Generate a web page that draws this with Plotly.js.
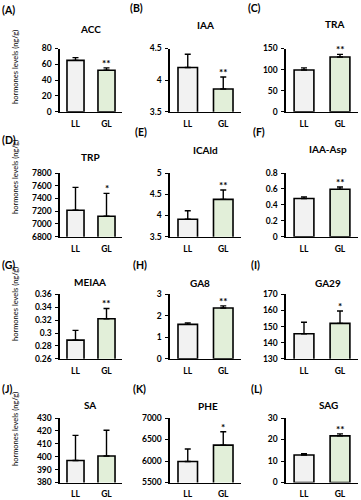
<!DOCTYPE html>
<html>
<head>
<meta charset="utf-8">
<script src="https://cdn.plot.ly/plotly-3.0.1.min.js"></script>
<style>html,body{margin:0;padding:0;background:#fff;}#chart{width:361px;height:500px;}</style>
</head>
<body>
<div id="chart"></div>
<script>
// ---- data ----
const categories = ['LL', 'GL'];
const panelNames = ['ACC', 'IAA', 'TRA', 'TRP', 'ICAld', 'IAA-Asp', 'MEIAA', 'GA8', 'GA29', 'SA', 'PHE', 'SAG'];
const panelLetters = ['(A)', '(B)', '(C)', '(D)', '(E)', '(F)', '(G)', '(H)', '(I)', '(J)', '(K)', '(L)'];
const llValues = [65, 4.2, 99, 7215, 3.91, 0.48, 0.289, 1.6, 145.5, 397, 5990, 12.8];
const llErrors = [3.5, 0.21, 5, 360, 0.2, 0.02, 0.015, 0.07, 7.2, 19.5, 290, 0.6];
const glValues = [52.5, 3.86, 130, 7120, 4.38, 0.595, 0.322, 2.36, 152, 400.5, 6370, 21.7];
const glErrors = [3, 0.19, 6, 360, 0.22, 0.03, 0.016, 0.1, 7.6, 20, 310, 0.9];
const significance = ['**', '**', '**', '*', '**', '**', '**', '**', '*', '', '*', '**'];
const axisMin = [0, 3.5, 0, 6800, 3.5, 0, 0.26, 0, 130, 380, 5500, 0];
const axisMax = [80, 4.5, 150, 7800, 5, 0.8, 0.36, 3, 170, 430, 7000, 30];
const tickValues = [
  [0, 20, 40, 60, 80],
  [3.5, 4, 4.5],
  [0, 50, 100, 150],
  [6800, 7000, 7200, 7400, 7600, 7800],
  [3.5, 4, 4.5, 5],
  [0, 0.2, 0.4, 0.6, 0.8],
  [0.26, 0.28, 0.3, 0.32, 0.34, 0.36],
  [0, 1, 2, 3],
  [130, 140, 150, 160, 170],
  [380, 390, 400, 410, 420, 430],
  [5500, 6000, 6500, 7000],
  [0, 10, 20, 30]
];
const tickLabels = [
  ['0', '20', '40', '60', '80'],
  ['3.5', '4', '4.5'],
  ['0', '50', '100', '150'],
  ['6800', '7000', '7200', '7400', '7600', '7800'],
  ['3.5', '4', '4.5', '5'],
  ['0', '0.2', '0.4', '0.6', '0.8'],
  ['0.26', '0.28', '0.3', '0.32', '0.34', '0.36'],
  ['0', '1', '2', '3'],
  ['130', '140', '150', '160', '170'],
  ['380', '390', '400', '410', '420', '430'],
  ['5500', '6000', '6500', '7000'],
  ['0', '10', '20', '30']
];
const yAxisTitle = 'hormones levels (ng/g)';

// ---- layout geometry (pixels) ----
const W = 361, H = 500;
const colPx = [[60, 122], [170, 241], [286, 358]];
const rowPx = [[48.5, 111.7], [173, 236.7], [294.3, 358.8], [418, 482.5]];
const titlePx = [[90, 29], [205, 25], [334, 24], [90, 157], [205, 150], [328, 149], [90, 282], [200, 283], [328, 283], [90, 405], [208, 406], [328, 405]];
const letterPx = [[0, 10], [128, 8], [246, 8], [0, 140], [133, 132], [251, 132], [0, 265], [131, 265], [249, 265], [0, 389], [131, 389], [249, 389]];
const yTitleRowPx = [67, 177, 304, 429];

const FONT = 'Lato, "Open Sans", sans-serif';
const px2x = p => p / W;
const px2y = p => 1 - p / H;

const data = [];
const layout = {
  width: W, height: H,
  margin: {l: 0, r: 0, t: 0, b: 0},
  paper_bgcolor: '#fff', plot_bgcolor: '#fff',
  showlegend: false,
  bargap: 0.45,
  font: {family: FONT, color: '#000'},
  annotations: []
};

for (let i = 0; i < 12; i++) {
  const r = Math.floor(i / 3), c = i % 3;
  const sfx = i === 0 ? '' : String(i + 1);
  data.push({
    type: 'bar',
    x: categories,
    y: [llValues[i], glValues[i]],
    xaxis: 'x' + sfx, yaxis: 'y' + sfx,
    marker: {color: ['#f2f2f2', '#e2efd9'], line: {color: '#000', width: 1.6}},
    error_y: {type: 'data', symmetric: false, array: [llErrors[i], glErrors[i]], arrayminus: [0, 0], color: '#000', thickness: 1.4, width: 3},
    hoverinfo: 'none'
  });
  layout['xaxis' + sfx] = {
    domain: [px2x(colPx[c][0]), px2x(colPx[c][1])],
    anchor: 'y' + sfx,
    type: 'category',
    range: [-0.5, 1.5],
    showline: true, linecolor: '#000', linewidth: 1.6,
    ticks: '', showgrid: false, zeroline: false,
    tickfont: {family: FONT, size: 8.5, color: '#000', weight: 'bold'},
    ticklabelstandoff: 3,
    fixedrange: true
  };
  layout['yaxis' + sfx] = {
    domain: [px2y(rowPx[r][1]), px2y(rowPx[r][0])],
    anchor: 'x' + sfx,
    range: [axisMin[i], axisMax[i]],
    tickmode: 'array', tickvals: tickValues[i], ticktext: tickLabels[i],
    showline: true, linecolor: '#000', linewidth: 1.6,
    ticks: 'outside', ticklen: 3, tickwidth: 1, tickcolor: '#000',
    showgrid: false, zeroline: false,
    tickfont: {family: FONT, size: 8.5, color: '#000', weight: 'bold'},
    ticklabelstandoff: 2,
    fixedrange: true
  };
  layout.annotations.push({
    xref: 'paper', yref: 'paper', x: px2x(titlePx[i][0]), y: px2y(titlePx[i][1]),
    xanchor: 'center', yanchor: 'middle', showarrow: false,
    text: '<b>' + panelNames[i] + '</b>', font: {family: FONT, size: 10, color: '#000'}
  });
  layout.annotations.push({
    xref: 'paper', yref: 'paper', x: px2x(letterPx[i][0]), y: px2y(letterPx[i][1]),
    xanchor: 'left', yanchor: 'middle', showarrow: false,
    text: '<b>' + panelLetters[i] + '</b>', font: {family: FONT, size: 10.5, color: '#000'}
  });
  if (significance[i]) {
    layout.annotations.push({
      xref: 'x' + sfx, yref: 'y' + sfx, x: 'GL', y: glValues[i] + glErrors[i],
      xanchor: 'center', yanchor: 'bottom', yshift: -3, showarrow: false,
      text: '<b>' + significance[i] + '</b>', font: {family: FONT, size: 10, color: '#000'}
    });
  }
}
for (let r = 0; r < 4; r++) {
  layout.annotations.push({
    xref: 'paper', yref: 'paper', x: px2x(15), y: px2y(yTitleRowPx[r]),
    xanchor: 'center', yanchor: 'middle', showarrow: false, textangle: -90,
    text: yAxisTitle, font: {family: FONT, size: 7.5, color: '#000'}
  });
}

Plotly.newPlot('chart', data, layout, {displayModeBar: false, staticPlot: true});
</script>
</body>
</html>
